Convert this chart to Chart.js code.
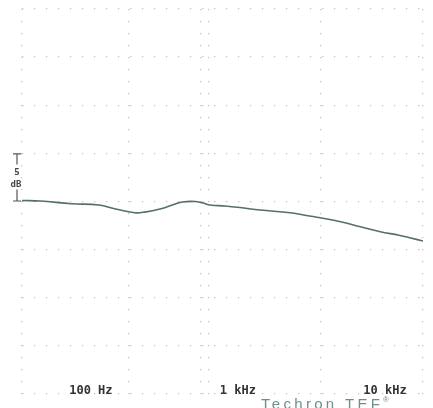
<!DOCTYPE html>
<html>
<head>
<meta charset="utf-8">
<script src="https://cdn.jsdelivr.net/npm/chart.js@4"></script>
<style>
	html, body { margin: 0; padding: 0; background: #fff; }
	#wrap { width: 433px; height: 408px; position: relative; }
</style>
</head>
<body>
<div id="wrap"><canvas id="resp"></canvas></div>
<script>
// frequency response: Hz / dB
const freqs = [30, 40, 65, 100, 130, 175, 205, 260, 330, 370, 450, 510, 570, 720, 910, 1250, 2000, 2700, 3200, 4400, 6000, 8200, 11000, 13000, 16000];
const levels = [0.1, 0.05, -0.23, -0.36, -0.78, -1.17, -1.1, -0.78, -0.26, -0.05, 0, -0.16, -0.36, -0.47, -0.63, -0.89, -1.17, -1.5, -1.69, -2.1, -2.63, -3.15, -3.5, -3.77, -4.1];

// labelled decades and the dotted vertical lines
const labelFreqs = [100, 1000, 10000];
const labelText = ["100 Hz", "1 kHz", "10 kHz"];
const gridFreqs = [30, 160, 490, 560, 3200, 16000];

const dotColor = "#c2c2c2";

// decade labels, 5 dB scale marker on the left, logo line at the bottom
const decorPlugin = {
	id: "decor",
	afterDraw(chart) {
		const ctx = chart.ctx;
		const x = chart.scales.x;
		const y = chart.scales.y;
		const top = y.getPixelForValue(5);
		const bot = y.getPixelForValue(0);
		const mx = 17;

		ctx.save();

		// frequency labels sit on the bottom grid row
		ctx.font = "bold 12px 'DejaVu Sans Mono'";
		ctx.fillStyle = "#333";
		ctx.textAlign = "center";
		ctx.textBaseline = "middle";
		labelFreqs.forEach((f, i) => {
			ctx.fillText(labelText[i], x.getPixelForValue(f) - 8, chart.chartArea.bottom - 3);
		});

		ctx.strokeStyle = "#555";
		ctx.fillStyle = "#444";
		ctx.lineWidth = 1.2;
		ctx.beginPath();
		ctx.moveTo(mx - 4, top + 0.5);
		ctx.lineTo(mx + 4, top + 0.5);
		ctx.moveTo(mx, top);
		ctx.lineTo(mx, top + 11);
		ctx.moveTo(mx, bot - 12);
		ctx.lineTo(mx, bot - 1);
		ctx.moveTo(mx - 4, bot - 0.5);
		ctx.lineTo(mx + 4, bot - 0.5);
		ctx.stroke();

		ctx.font = "bold 9px 'DejaVu Sans Mono'";
		ctx.fillText("5", mx, top + 19);
		ctx.fillText("dB", mx - 1, top + 31);

		// logo
		ctx.fillStyle = "#6f8f8c";
		ctx.textAlign = "left";
		ctx.textBaseline = "alphabetic";
		ctx.font = "15px 'Liberation Sans'";
		ctx.letterSpacing = "3.3px";
		ctx.fillText("Techron TEF", 261, 409);
		ctx.letterSpacing = "0px";
		ctx.font = "8px 'Liberation Sans'";
		ctx.fillText("®", 383, 402);
		ctx.restore();
	},
};

new Chart(document.getElementById("resp"), {
	type: "line",
	data: {
		datasets: [
			{
				data: freqs.map((f, i) => ({ x: f, y: levels[i] })),
				borderColor: "#566f69",
				borderWidth: 1.6,
				pointRadius: 0,
				tension: 0.4,
				fill: false,
			},
		],
	},
	options: {
		responsive: true,
		maintainAspectRatio: false,
		animation: false,
		layout: {
			padding: { left: 22, right: 10, top: 9, bottom: 0 },
		},
		plugins: {
			legend: { display: false },
			tooltip: { enabled: false },
		},
		scales: {
			x: {
				type: "logarithmic",
				min: 30,
				max: 16000,
				afterBuildTicks: (scale) => {
					scale.ticks = gridFreqs.map((v) => ({ value: v }));
				},
				afterFit: (scale) => {
					scale.height = 14;
				},
				border: { display: false, dash: [1.3, 10.7] },
				grid: {
					drawTicks: false,
					lineWidth: 1.3,
					color: dotColor,
				},
				ticks: { display: false },
			},
			y: {
				min: -20,
				max: 20,
				afterFit: (scale) => {
					scale.width = 0;
				},
				border: { display: false, dash: [1.3, 10.7] },
				grid: {
					drawTicks: false,
					lineWidth: 1.3,
					color: dotColor,
				},
				ticks: { display: false, stepSize: 5 },
			},
		},
	},
	plugins: [decorPlugin],
});
</script>
</body>
</html>
